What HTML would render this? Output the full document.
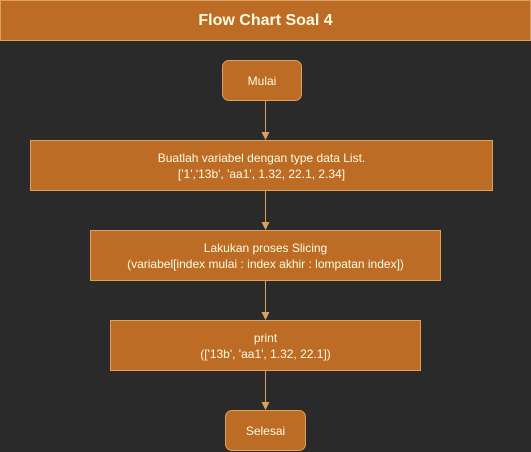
<!DOCTYPE html>
<html><head><meta charset="utf-8"><style>
html,body{margin:0;padding:0}
body{width:531px;height:452px;background:#2a2a2a;position:relative;overflow:hidden;font-family:"Liberation Sans",sans-serif;color:#fefae0}
.b{position:absolute;box-sizing:border-box;background:#bc6c25;border:1px solid #dda15e;display:flex;align-items:center;justify-content:center;text-align:center;font-size:12px;line-height:16px}
</style></head><body>
<div class="b" style="left:0;top:0;width:531px;height:41px;font-size:16px;font-weight:bold">Flow Chart Soal 4</div>
<div class="b" style="left:222px;top:60px;width:80px;height:41px;border-radius:7px">Mulai</div>
<div class="b" style="left:30px;top:140px;width:463px;height:51px">Buatlah variabel dengan type data List.<br>['1','13b', 'aa1', 1.32, 22.1, 2.34]</div>
<div class="b" style="left:90px;top:230px;width:351px;height:51px">Lakukan proses Slicing<br>(variabel[index mulai : index akhir : lompatan index])</div>
<div class="b" style="left:110px;top:320px;width:311px;height:51px">print<br>(['13b', 'aa1', 1.32, 22.1])</div>
<div class="b" style="left:225px;top:410px;width:81px;height:41px;border-radius:7px">Selesai</div>
<svg width="531" height="452" style="position:absolute;left:0;top:0">
<g stroke="#dda15e" fill="#dda15e">
<line x1="265.5" y1="101" x2="265.5" y2="134"/><polygon points="261.5,132 269.5,132 265.5,140" stroke="none"/>
<line x1="265.5" y1="191" x2="265.5" y2="224"/><polygon points="261.5,222 269.5,222 265.5,230" stroke="none"/>
<line x1="265.5" y1="281" x2="265.5" y2="314"/><polygon points="261.5,312 269.5,312 265.5,320" stroke="none"/>
<line x1="265.5" y1="371" x2="265.5" y2="404"/><polygon points="261.5,402 269.5,402 265.5,410" stroke="none"/>
</g></svg>
</body></html>
